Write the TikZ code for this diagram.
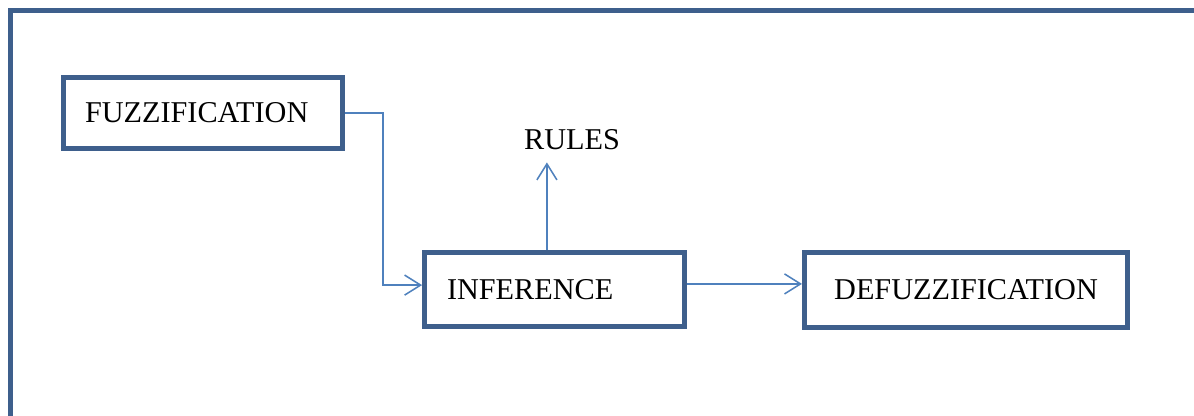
\documentclass[tikz,border=0pt]{standalone}
\usepackage{fontspec}
\setmainfont{Liberation Serif}
\usepackage{tikz}
\usetikzlibrary{arrows.meta}

\definecolor{boxblue}{HTML}{3E5F8C}
\definecolor{lineblue}{HTML}{4F81BD}

\begin{document}
\begin{tikzpicture}[
    stage/.style={rectangle, draw=boxblue, line width=3.6pt, fill=white,
                  font=\fontsize{21.5}{25}\selectfont, align=left},
    arrow/.style={-{Straight Barb[length=4mm, width=5mm]}, draw=lineblue, line width=1.1pt},
    frame/.style={draw=boxblue, line width=3.4pt}
]

    % Page size and clipping
    \useasboundingbox (0, 0) rectangle (29.85, -10.4);
    \clip (0, 0) rectangle (29.85, -10.4);

    % Outer frame (cut by the page)
    \draw[frame] (0.26, -11) -- (0.26, -0.27) -- (31, -0.27);

    % Stages
    \node[stage, text width=5.9cm, inner xsep=0.54cm, minimum height=1.775cm] (fuzz) at (5.075, -2.825) {FUZZIFICATION};
    \node[stage, text width=5.375cm, inner xsep=0.56cm, minimum height=1.85cm] (inf) at (13.8625, -7.2375) {INFERENCE};
    \node[stage, text width=7.075cm, inner xsep=0.5cm, minimum height=1.875cm, align=center] (def) at (24.15, -7.25) {DEFUZZIFICATION};

    % Rule base label
    \node[font=\fontsize{21.5}{25}\selectfont, inner sep=0.3cm] (rules) at (14.3, -3.5) {RULES};

    % Arrows
    \draw[arrow] (fuzz.east) -- ++(0.95, 0) |- ([yshift=0.11cm]inf.west);
    \draw[arrow] ([xshift=-0.19cm]inf.north) -- ([xshift=-0.19cm]inf.north |- rules.south);
    \draw[arrow] ([yshift=0.14cm]inf.east) -- ([yshift=0.14cm]inf.east -| def.west);

\end{tikzpicture}
\end{document}
